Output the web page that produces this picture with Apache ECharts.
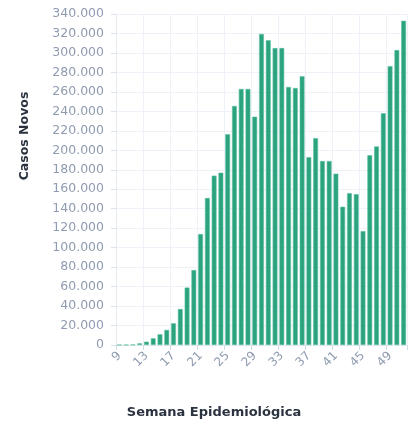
<!DOCTYPE html>
<html>
<head>
<meta charset="utf-8">
<script src="https://cdn.jsdelivr.net/npm/echarts@6/dist/echarts.min.js"></script>
<style>
html,body{margin:0;padding:0;background:#fff;}
#chart{width:412px;height:426px;}
</style>
</head>
<body>
<div id="chart"></div>
<script>
const weeks = ['9','10','11','12','13','14','15','16','17','18','19','20','21','22','23','24','25','26','27','28','29','30','31','32','33','34','35','36','37','38','39','40','41','42','43','44','45','46','47','48','49','50','51'];
const newCases = [1,20,350,1700,3400,6900,11000,15500,22300,37000,59000,77000,114000,151000,174000,177000,216500,245500,263000,263000,234500,319500,313000,305000,305000,265000,264000,276000,193000,212500,189000,189000,176000,142000,156000,155000,117000,195000,204000,238000,286500,303000,333000];
const yTitle = 'Casos Novos';
const xTitle = 'Semana Epidemiológica';

function fmt(v){ return String(v).replace(/\B(?=(\d{3})+(?!\d))/g, '.'); }

const chart = echarts.init(document.getElementById('chart'), null, {renderer:'canvas'});
chart.setOption({
  animation:false,
  backgroundColor:'#ffffff',
  grid:{left:116, right:5, top:14, bottom:81, containLabel:false},
  xAxis:{
    type:'category',
    data:weeks,
    boundaryGap:true,
    axisLine:{show:true, lineStyle:{color:'#e6eaf1'}},
    axisTick:{show:true, interval:3, length:5, lineStyle:{color:'#d5dbe5'}},
    splitLine:{show:true, interval:3, lineStyle:{color:'#eef1f7', width:1}},
    axisLabel:{interval:3, rotate:45, color:'#8f9bb0', fontSize:12, fontFamily:'DejaVu Sans', margin:9}
  },
  yAxis:{
    type:'value',
    min:0, max:340000, interval:20000,
    axisLine:{show:true, lineStyle:{color:'#e6eaf1'}},
    axisTick:{show:true, length:5, lineStyle:{color:'#dde2ea'}},
    splitLine:{show:true, lineStyle:{color:'#eef1f7', width:1}},
    axisLabel:{color:'#8f9bb0', fontSize:12.5, fontFamily:'DejaVu Sans', margin:12, formatter:fmt}
  },
  series:[{
    type:'bar',
    data:newCases,
    barWidth:4.8,
    itemStyle:{color:'#2aa37e', borderColor:'#5cbf9f', borderWidth:0.6}
  }],
  graphic:[
    {type:'text', x:25, y:136, rotation:Math.PI/2,
     style:{text:yTitle, fontSize:12.5, fontWeight:'bold', fontFamily:'DejaVu Sans', fill:'#2b3340', textAlign:'center', textVerticalAlign:'middle'}},
    {type:'text', x:214, y:413,
     style:{text:xTitle, fontSize:13, fontWeight:'bold', fontFamily:'DejaVu Sans', fill:'#2b3340', textAlign:'center', textVerticalAlign:'middle'}}
  ]
});
</script>
</body>
</html>
